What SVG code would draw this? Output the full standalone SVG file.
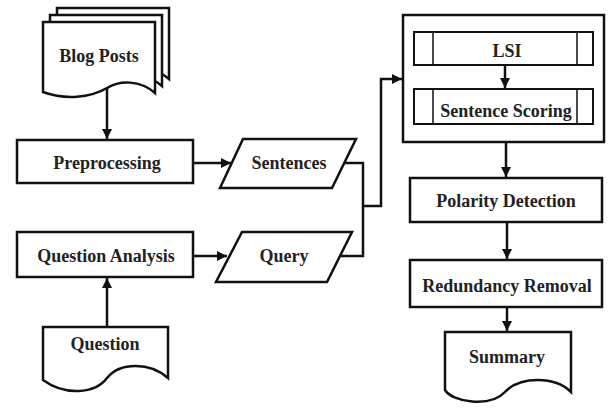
<svg xmlns="http://www.w3.org/2000/svg" width="609" height="410" viewBox="0 0 609 410">
<defs>
<style>
.s{fill:#fff;stroke:#111;stroke-width:2.5;stroke-linejoin:miter}
.t{fill:none;stroke:#111;stroke-width:1.5}
.c{fill:none;stroke:#111;stroke-width:2.5}
text{font-family:"Liberation Serif","Times New Roman",serif;font-weight:bold;font-size:18px;fill:#222;text-anchor:middle}
</style>
<marker id="ah" markerUnits="userSpaceOnUse" markerWidth="12" markerHeight="10" refX="10" refY="5" orient="auto">
<path d="M0,0 L10,5 L0,10 Z" fill="#111"/>
</marker>
</defs>
<rect width="609" height="410" fill="#fff"/>
<g id="blog-posts">
<path class="s" d="M57,8 H169 V79 C154,66 134,66 121,74 C104,84 79,86 57,78 Z"/>
<path class="s" d="M50,15 H162 V86 C147,73 127,73 114,81 C97,91 72,93 50,85 Z"/>
<path class="s" d="M43,22 H155 V93 C140,80 120,80 107,88 C90,98 65,100 43,92 Z"/>
<text x="99" y="62">Blog Posts</text>
</g>
<g id="preprocessing">
<rect class="s" x="17" y="140" width="176" height="43"/>
<text x="107" y="169">Preprocessing</text>
</g>
<g id="sentences">
<path class="s" d="M243,139 H356 L332,188 H220 Z"/>
<text x="289" y="169">Sentences</text>
</g>
<g id="question-analysis">
<rect class="s" x="17" y="232" width="176" height="45"/>
<text x="106" y="262">Question Analysis</text>
</g>
<g id="query">
<path class="s" d="M242,232 H352 L327,282 H216 Z"/>
<text x="284" y="262">Query</text>
</g>
<g id="question">
<path class="s" d="M43,327 H168 V378 C150,362 120,362 107,378 C95,394 65,396 43,380 Z"/>
<text x="105" y="350">Question</text>
</g>
<g id="lsi-group">
<rect class="s" x="403" y="15" width="201" height="127"/>
</g>
<g id="lsi">
<rect class="s" x="414" y="32" width="179" height="33" style="stroke-width:2"/>
<path class="t" d="M433,32 V65 M577,32 V65"/>
<text x="507" y="57">LSI</text>
</g>
<g id="sentence-scoring">
<rect class="s" x="414" y="89" width="179" height="35" style="stroke-width:2"/>
<path class="t" d="M433,89 V124 M577,89 V124"/>
<text x="506" y="117">Sentence Scoring</text>
</g>
<g id="polarity-detection">
<rect class="s" x="410" y="178" width="192" height="44"/>
<text x="506" y="207">Polarity Detection</text>
</g>
<g id="redundancy-removal">
<rect class="s" x="410" y="260" width="192" height="47"/>
<text x="507" y="292">Redundancy Removal</text>
</g>
<g id="summary">
<path class="s" d="M445,332 H571 V392 C555,376 520,376 505,392 C490,408 452,402 445,390 Z"/>
<text x="507" y="363">Summary</text>
</g>
<g id="connectors">
<path class="c" d="M107,88 V139" marker-end="url(#ah)"/>
<path class="c" d="M193,163 H231" marker-end="url(#ah)"/>
<path class="c" d="M193,256 H227" marker-end="url(#ah)"/>
<path class="c" d="M107,327 V278" marker-end="url(#ah)"/>
<path class="c" d="M344,163 H363 V256 H339"/>
<path class="c" d="M363,206 H381 V79 H402" marker-end="url(#ah)"/>
<path class="c" d="M505,65 V88" marker-end="url(#ah)"/>
<path class="c" d="M506,142 V177" marker-end="url(#ah)"/>
<path class="c" d="M507,222 V259" marker-end="url(#ah)"/>
<path class="c" d="M507,307 V331" marker-end="url(#ah)"/>
</g>
</svg>
